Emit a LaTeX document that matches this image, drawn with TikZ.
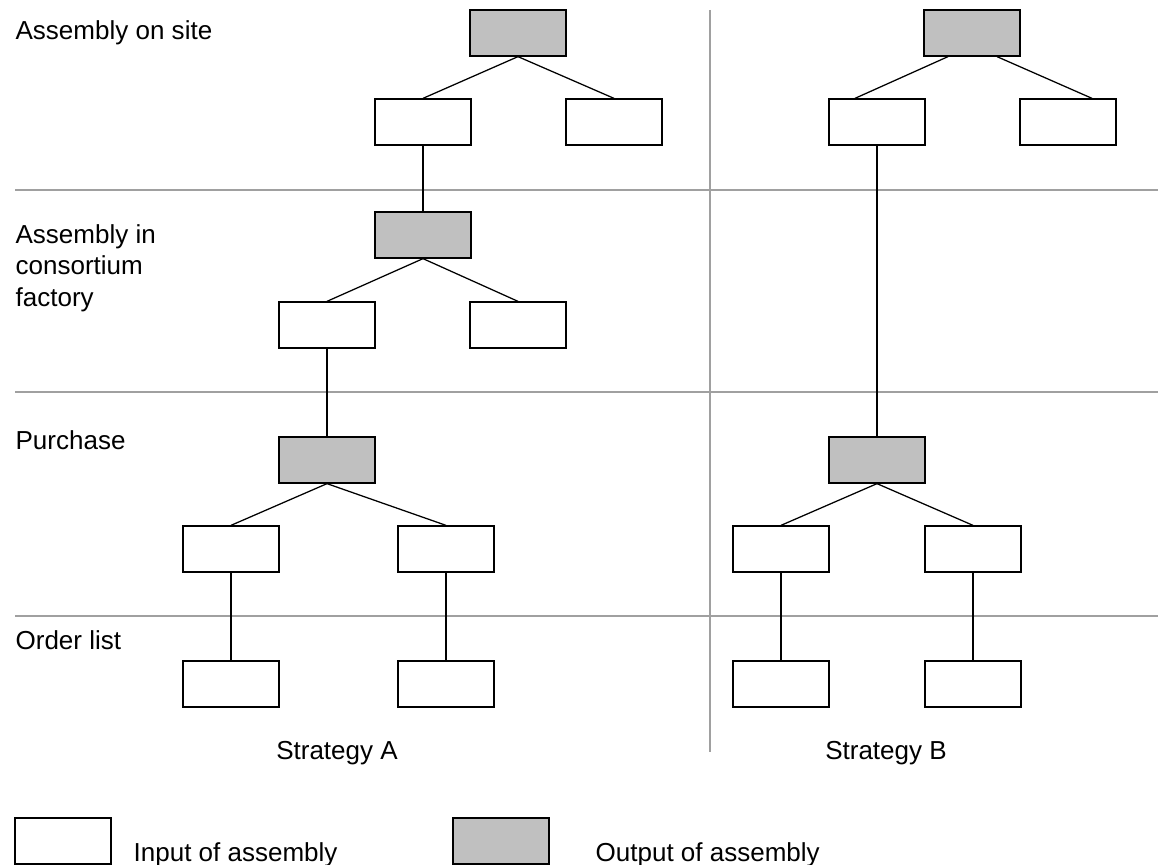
\documentclass[tikz,border=0pt]{standalone}
\usepackage{fontspec}
\setmainfont{Liberation Sans}
\usepackage{tikz}
\usetikzlibrary{positioning}
\definecolor{rulegray}{RGB}{160,160,160}
\definecolor{outfill}{RGB}{192,192,192}

\begin{document}
\begin{tikzpicture}[
		x=0.025cm, y=-0.025cm,
		line width=0.9pt,
		every node/.style={font=\fontsize{18.5}{22.4}\selectfont},
		input/.style={draw, fill=white, minimum width=2.4cm, minimum height=1.15cm, inner sep=0pt},
		output/.style={input, fill=outfill},
		rowline/.style={rulegray, line width=1pt},
		rowtext/.style={anchor=west, inner sep=0pt, align=left}]

	\useasboundingbox (0,0) rectangle (1158,865);

	% level lines
	\foreach \ypos in {190,392,616}
		\draw[rowline] (15,\ypos) -- (1158,\ypos);
	\draw[rowline] (710,10) -- (710,752);

	\node[rowtext] (onsite) at (15,33) {Assembly on site};
	\node[rowtext] (consortium) at (15,268) {Assembly in\\consortium\\factory};
	\node[rowtext] (purchase) at (15,440) {Purchase};
	\node[rowtext] (orderlist) at (15,640) {Order list};

	% strategy A
	\node[output] (siteA) at (518,33) {};
	\node[input] (siteAl) at (423,122) {};
	\node[input] (siteAr) at (614,122) {};
	\node[output] (consA) at (423,235) {};
	\node[input] (consAl) at (327,325) {};
	\node[input] (consAr) at (518,325) {};
	\node[output] (purchA) at (327,460) {};
	\node[input] (purchAl) at (231,549) {};
	\node[input] (purchAr) at (446,549) {};
	\node[input] (orderAl) at (231,684) {};
	\node[input] (orderAr) at (446,684) {};
	\node (stratA) at (337,753) {Strategy A};

	\draw	(siteA.south) edge (siteAl.north)
			(siteA.south) edge (siteAr.north)
			(siteAl.south) edge (consA.north);
	\draw	(consA.south) edge (consAl.north)
			(consA.south) edge (consAr.north)
			(consAl.south) edge (purchA.north);
	\draw	(purchA.south) edge (purchAl.north)
			(purchA.south) edge (purchAr.north)
			(purchAl.south) edge (orderAl.north)
			(purchAr.south) edge (orderAr.north);

	% strategy B
	\node[output] (siteB) at (972,33) {};
	\node[input] (siteBl) at (877,122) {};
	\node[input] (siteBr) at (1068,122) {};
	\node[output] (purchB) at (877,460) {};
	\node[input] (purchBl) at (781,549) {};
	\node[input] (purchBr) at (973,549) {};
	\node[input] (orderBl) at (781,684) {};
	\node[input] (orderBr) at (973,684) {};
	\node (stratB) at (886,753) {Strategy B};

	\draw	([xshift=-0.6cm]siteB.south) edge ([xshift=-0.55cm]siteBl.north)
			([xshift=0.625cm]siteB.south) edge ([xshift=0.6cm]siteBr.north)
			(siteBl.south) edge (purchB.north);
	\draw	(purchB.south) edge (purchBl.north)
			(purchB.south) edge (purchBr.north)
			(purchBl.south) edge (orderBl.north)
			(purchBr.south) edge (orderBr.north);

	% legend
	\node[input] (keyin) at (63,841) {};
	\node[anchor=base west, inner sep=0pt] (keyintext) at (133,861) {Input of assembly};
	\node[output] (keyout) at (501,841) {};
	\node[anchor=base west, inner sep=0pt] (keyouttext) at (595,861) {Output of assembly};

\end{tikzpicture}
\end{document}
